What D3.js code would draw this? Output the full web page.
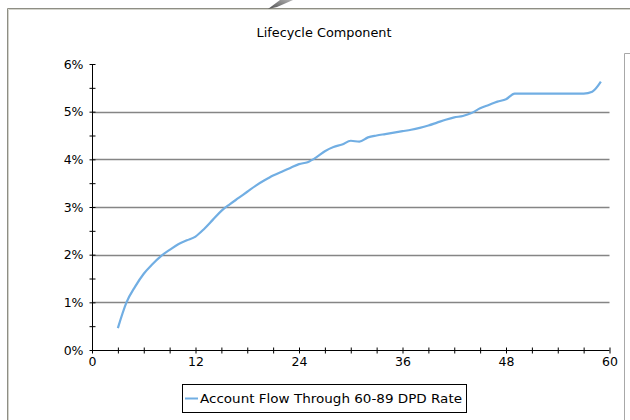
<!DOCTYPE html>
<html>
<head>
<meta charset="utf-8">
<script src="https://cdn.jsdelivr.net/npm/d3@7"></script>
<style>
  html, body { margin: 0; padding: 0; background: #ffffff; }
  svg { display: block; }
  text { font-family: "DejaVu Sans", Verdana, sans-serif; fill: #000; }
</style>
</head>
<body>
<svg id="chart" width="630" height="420"></svg>
<script>
// Month on book
const months = [3, 4, 5, 6, 7, 8, 9, 10, 11, 12, 13, 14, 15, 16, 17, 18, 19, 20,
  21, 22, 23, 24, 25, 26, 27, 28, 29, 30, 31, 32, 33, 34, 35, 36, 37, 38, 39, 40,
  41, 42, 43, 44, 45, 46, 47, 48, 49, 50, 51, 52, 53, 54, 55, 56, 57, 58, 59];

// Account flow through 60-89 DPD rate (%)
const flowRate = [0.46, 1.00, 1.33, 1.60, 1.80, 1.97, 2.10, 2.22, 2.30, 2.38, 2.54,
  2.73, 2.92, 3.06, 3.19, 3.32, 3.45, 3.56, 3.66, 3.74, 3.82, 3.90, 3.94, 4.04,
  4.17, 4.26, 4.31, 4.39, 4.37, 4.46, 4.50, 4.53, 4.56, 4.59, 4.62, 4.66, 4.71,
  4.77, 4.83, 4.88, 4.91, 4.97, 5.07, 5.14, 5.21, 5.26, 5.38, 5.38, 5.38, 5.38,
  5.38, 5.38, 5.38, 5.38, 5.38, 5.42, 5.63];

const xTicks = d3.range(0, 61, 3);          // tick marks every quarter
const xTickLabels = [0, 12, 24, 36, 48, 60];
const yTicks = d3.range(0, 6.01, 0.5);      // tick marks every half point
const yTickLabels = [0, 1, 2, 3, 4, 5, 6];
const gridValues = [1, 2, 3, 4, 5];

const title = "Lifecycle Component";
const seriesName = "Account Flow Through 60-89 DPD Rate";
const lineColor = "#71aee3";

const svg = d3.select("#chart");

// Outer frame
svg.append("path")
  .attr("d", "M7.5,420 V8.5 H630")
  .attr("fill", "none").attr("stroke", "#8e8e84").attr("stroke-width", 1);
svg.append("path")
  .attr("d", "M8.5,420 V9.5 H630")
  .attr("fill", "none").attr("stroke", "#d4d4cc").attr("stroke-width", 1);
svg.append("path")
  .attr("d", "M624.5,420 V53.5 H630")
  .attr("fill", "none").attr("stroke", "#a8a8a8").attr("stroke-width", 1);

// Pointer glyph at the top edge
const grad = svg.append("defs").append("linearGradient")
  .attr("id", "ptr").attr("x1", "0").attr("y1", "1").attr("x2", "1").attr("y2", "0");
grad.append("stop").attr("offset", "0").attr("stop-color", "#505050");
grad.append("stop").attr("offset", "1").attr("stop-color", "#b0b0b0");
svg.append("polygon")
  .attr("points", "268,9 280,0 293,0 277,7")
  .attr("fill", "url(#ptr)");

const x = d3.scaleLinear().domain([0, 60]).range([92, 609.5]);
const y = d3.scaleLinear().domain([0, 6]).range([350, 64]);

// Title
svg.append("text")
  .attr("x", 324).attr("y", 37)
  .attr("text-anchor", "middle")
  .style("font-size", "13px")
  .attr("textLength", 135).attr("lengthAdjust", "spacingAndGlyphs")
  .text(title);

// Horizontal gridlines
svg.append("g").selectAll("line")
  .data(gridValues)
  .join("line")
  .attr("x1", x(0)).attr("x2", x(60))
  .attr("y1", d => Math.round(y(d)) + 0.5).attr("y2", d => Math.round(y(d)) + 0.5)
  .attr("stroke", "#858585").attr("stroke-width", 1.3);

// Y axis
const yAxis = svg.append("g")
  .attr("transform", `translate(${x(0) + 0.5},0)`)
  .call(d3.axisLeft(y)
    .tickValues(yTicks)
    .tickSize(3)
    .tickPadding(6)
    .tickFormat(d => yTickLabels.includes(d) ? d + "%" : ""));
yAxis.select(".domain").attr("stroke", "#000").attr("d", `M0,${y(6)}V${y(0)}`);
yAxis.selectAll(".tick line").attr("x1", 3).attr("x2", -3).attr("stroke", "#000");
yAxis.selectAll(".tick text").style("font-size", "12.5px").attr("fill", "#000")
  .attr("font-family", null);

// X axis
const xAxis = svg.append("g")
  .attr("transform", `translate(0,${y(0) + 0.5})`)
  .call(d3.axisBottom(x)
    .tickValues(xTicks)
    .tickSize(3)
    .tickPadding(4)
    .tickFormat(d => xTickLabels.includes(d) ? d : ""));
xAxis.select(".domain").attr("stroke", "#000").attr("d", `M${x(0)},0H${x(60)}`);
xAxis.selectAll(".tick line").attr("y1", -3).attr("y2", 3).attr("stroke", "#000");
xAxis.selectAll(".tick text").style("font-size", "12.5px").attr("fill", "#000")
  .attr("font-family", null);

// Series line
const line = d3.line()
  .x((d, i) => x(months[i]))
  .y(d => y(d))
  .curve(d3.curveMonotoneX);
svg.append("path")
  .datum(flowRate)
  .attr("d", line)
  .attr("fill", "none")
  .attr("stroke", lineColor)
  .attr("stroke-width", 2.2)
  .attr("stroke-linejoin", "round");

// Legend
const legend = svg.append("g");
legend.append("rect")
  .attr("x", 182.5).attr("y", 384.5)
  .attr("width", 284).attr("height", 28)
  .attr("fill", "#fff").attr("stroke", "#000").attr("stroke-width", 1);
legend.append("line")
  .attr("x1", 185).attr("x2", 198)
  .attr("y1", 398.5).attr("y2", 398.5)
  .attr("stroke", lineColor).attr("stroke-width", 2);
legend.append("text")
  .attr("x", 200).attr("y", 403)
  .style("font-size", "13px")
  .attr("textLength", 262).attr("lengthAdjust", "spacingAndGlyphs")
  .text(seriesName);
</script>
</body>
</html>
